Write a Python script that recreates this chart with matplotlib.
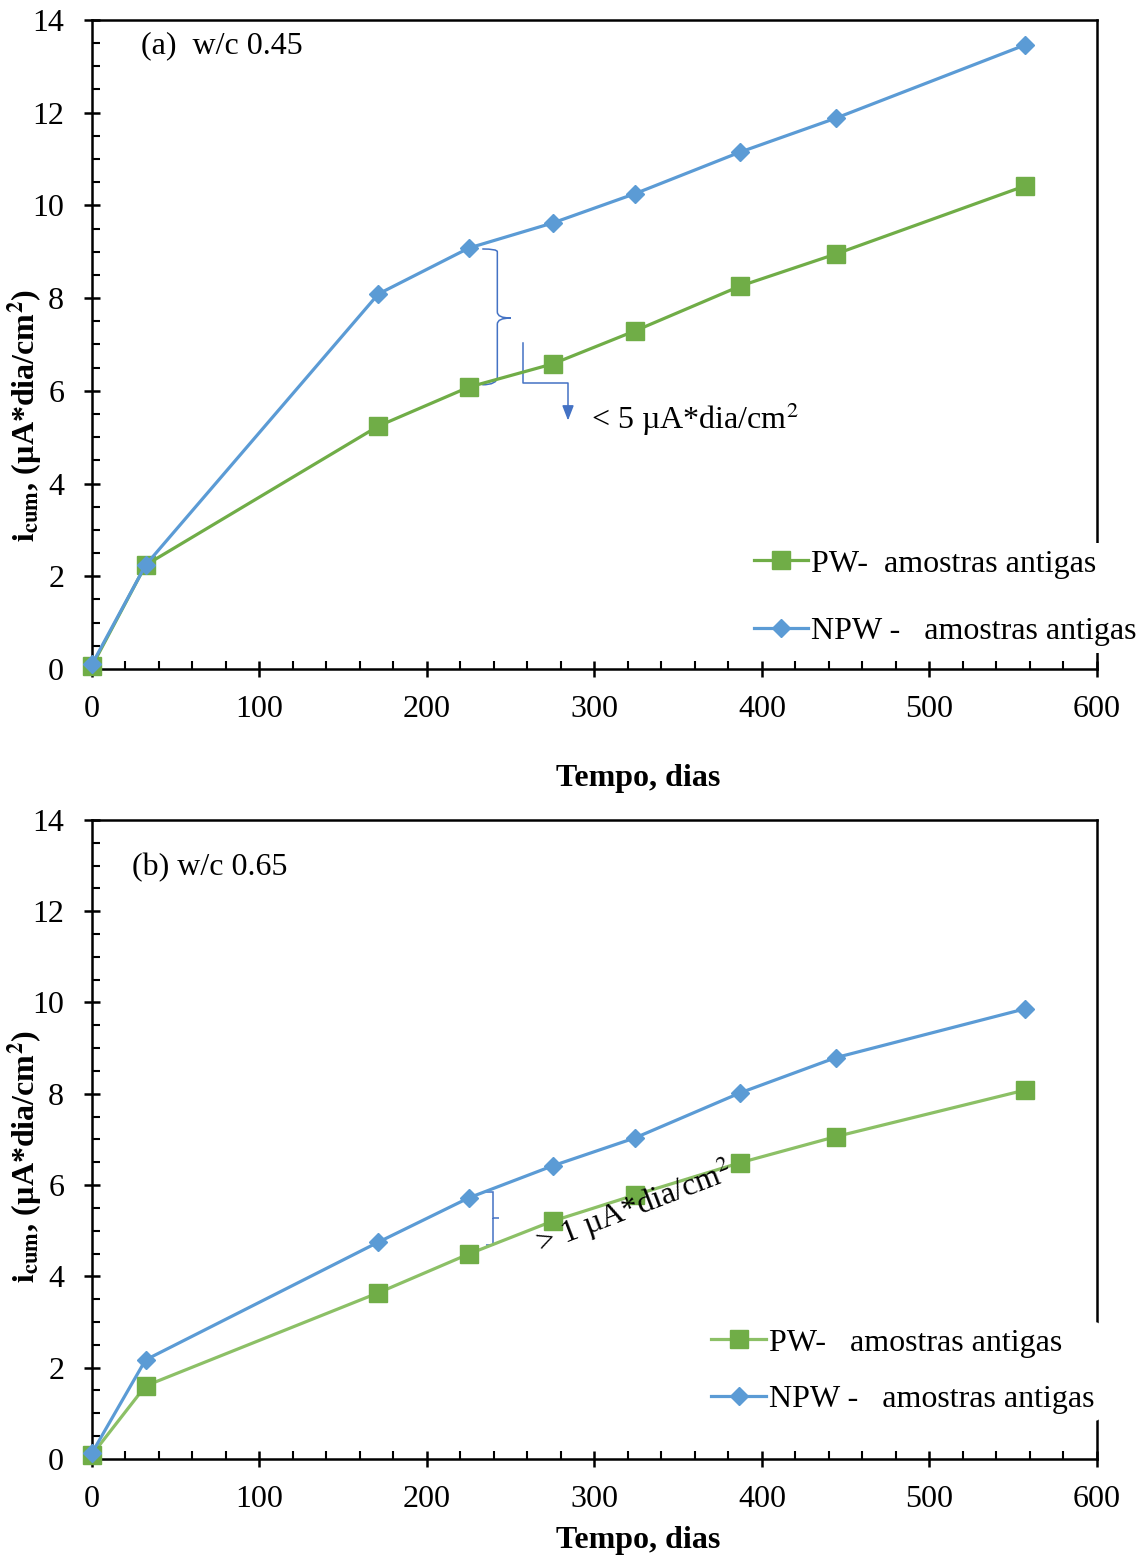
import matplotlib
matplotlib.use("Agg")
import matplotlib.pyplot as plt
from matplotlib.path import Path
from matplotlib.patches import PathPatch
from matplotlib.ticker import MultipleLocator

plt.rcParams["font.family"] = ["Liberation Serif", "DejaVu Serif"]
plt.rcParams["mathtext.fontset"] = "stix"

# Cumulative corrosion current, w/c 0.45
days_a = [0, 32, 171, 225, 275, 324, 387, 444, 557]
pw_a = [0.06, 2.24, 5.24, 6.08, 6.58, 7.29, 8.26, 8.95, 10.42]
npw_a = [0.10, 2.24, 8.09, 9.08, 9.62, 10.25, 11.15, 11.88, 13.46]

# Cumulative corrosion current, w/c 0.65
days_b = [0, 32, 171, 225, 275, 324, 387, 444, 557]
pw_b = [0.09, 1.60, 3.64, 4.49, 5.21, 5.78, 6.49, 7.06, 8.08]
npw_b = [0.13, 2.17, 4.75, 5.72, 6.42, 7.03, 8.02, 8.79, 9.86]

x_ticks = [0, 100, 200, 300, 400, 500, 600]
y_ticks = [0, 2, 4, 6, 8, 10, 12, 14]

GREEN = "#70AD47"
GREEN_LIGHT = "#8CC066"
BLUE = "#5B9BD5"
ANN = "#4472C4"
FS = 23

fig = plt.figure(figsize=(11.44, 15.59), dpi=100)
ax1 = fig.add_axes([0.0804, 0.5709, 0.8785, 0.4163])
ax2 = fig.add_axes([0.0804, 0.0642, 0.8785, 0.4099])


def style(ax, ylab_y, xlab_y):
    ax.set_xlim(0, 600)
    ax.set_ylim(0, 14)
    ax.set_xticks(x_ticks)
    ax.set_yticks(y_ticks)
    ax.xaxis.set_minor_locator(MultipleLocator(20))
    ax.yaxis.set_minor_locator(MultipleLocator(0.5))
    ax.tick_params(which="major", direction="inout", length=12, width=1.8,
                   labelsize=FS)
    ax.tick_params(axis="x", which="major", pad=13)
    ax.tick_params(axis="y", which="major", pad=14)
    ax.tick_params(which="minor", direction="in", length=6, width=1.5)
    for s in ax.spines.values():
        s.set_linewidth(1.8)
    ax.set_ylabel(r"$\mathbf{i_{cum}}$, (µA*dia/cm$^\mathbf{2}$)",
                  fontsize=FS, fontweight="bold")
    ax.yaxis.set_label_coords(-0.066, ylab_y)
    ax.yaxis.label.set_va("center")
    ax.yaxis.label.set_ha("center")
    ax.set_xlabel("Tempo, dias", fontsize=FS, fontweight="bold")
    ax.xaxis.set_label_coords(0.543, xlab_y)
    ax.xaxis.label.set_va("center")


# Panel (a)
ax1.plot(days_a, pw_a, color=GREEN, lw=2.3, marker="s", ms=13,
         label="PW-  amostras antigas", clip_on=False, zorder=3)
ax1.plot(days_a, npw_a, color=BLUE, lw=2.3, marker="D", ms=9.5,
         label="NPW -   amostras antigas", clip_on=False, zorder=4)
style(ax1, 0.39, -0.168)
ax1.text(29, 13.45, "(a)  w/c 0.45", fontsize=FS, va="center")
ax1.legend(loc="lower left", bbox_to_anchor=(0.652, 0.025),
           fontsize=FS, frameon=True, facecolor="white",
           edgecolor="none", framealpha=1, handlelength=1.7,
           handletextpad=0.1, labelspacing=1.2, borderpad=0.2,
           borderaxespad=0)

# brace spanning the gap between the series at day 225
brace_a = Path(
    [(233, 9.06), (242, 9.06), (242, 9.0), (242, 8.8),
     (242, 7.7), (242, 7.57), (250, 7.57),
     (242, 7.57), (242, 7.44), (242, 7.3),
     (242, 6.3), (242, 6.13), (233, 6.13)],
    [Path.MOVETO, Path.CURVE3, Path.CURVE3, Path.LINETO,
     Path.LINETO, Path.CURVE3, Path.CURVE3,
     Path.CURVE3, Path.CURVE3, Path.LINETO,
     Path.LINETO, Path.CURVE3, Path.CURVE3])
ax1.add_patch(PathPatch(brace_a, fill=False, edgecolor=ANN, lw=1.1))
ax1.plot([257.3, 257.3, 284.2, 284.2], [7.03, 6.17, 6.17, 5.6],
         color=ANN, lw=1.1)
ax1.annotate("", xy=(284.2, 5.3), xytext=(284.2, 5.65),
             arrowprops=dict(arrowstyle="-|>,head_width=0.35,head_length=0.9",
                             color=ANN, lw=1.1))
ax1.text(298, 5.38, "< 5 µA*dia/cm$^2$", fontsize=FS, va="center")

# Panel (b)
ax2.plot(days_b, pw_b, color=GREEN_LIGHT, lw=2.3, marker="s", ms=13,
         mfc=GREEN, mec=GREEN, label="PW-   amostras antigas",
         clip_on=False, zorder=3)
ax2.plot(days_b, npw_b, color=BLUE, lw=2.3, marker="D", ms=9.5,
         label="NPW -   amostras antigas", clip_on=False, zorder=4)
style(ax2, 0.473, -0.127)
ax2.text(24, 12.95, "(b) w/c 0.65", fontsize=FS, va="center")
ax2.legend(loc="lower left", bbox_to_anchor=(0.61, 0.06),
           fontsize=FS, frameon=True, facecolor="white",
           edgecolor="none", framealpha=1, handlelength=1.7,
           handletextpad=0.1, labelspacing=0.85, borderpad=0.2,
           borderaxespad=0)

brace_b = Path(
    [(235.5, 5.85), (239.4, 5.85), (239.4, 5.28), (243, 5.28),
     (239.4, 5.28), (239.4, 4.69), (235.5, 4.69)],
    [Path.MOVETO, Path.LINETO, Path.LINETO, Path.LINETO,
     Path.MOVETO, Path.LINETO, Path.LINETO])
ax2.add_patch(PathPatch(brace_b, fill=False, edgecolor=ANN, lw=1.1))
ax2.text(268, 4.5, "> 1 µA*dia/cm$^2$", fontsize=FS, rotation=21,
         rotation_mode="anchor", ha="left", va="baseline")

fig.savefig("out.png", dpi=100)
